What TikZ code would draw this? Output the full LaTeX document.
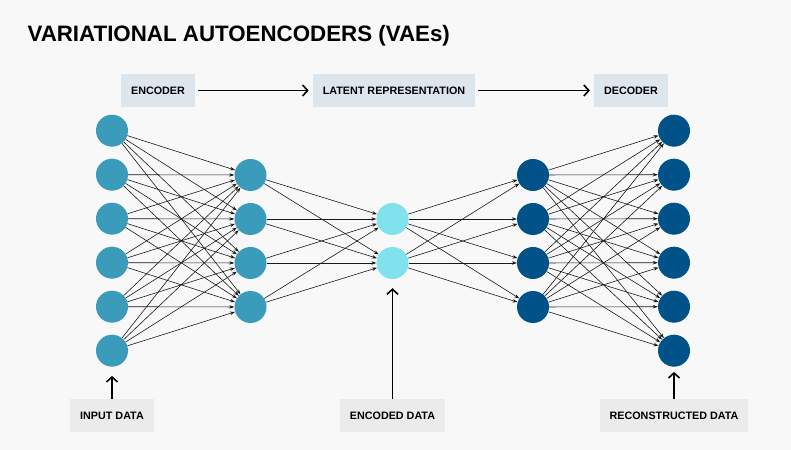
\documentclass[tikz,border=0pt]{standalone}
\usepackage{fontspec}
\setmainfont{Liberation Sans}
\usepackage{xcolor}
\usetikzlibrary{arrows.meta}
\definecolor{bgcol}{HTML}{F8F8F8}
\definecolor{topbox}{HTML}{DDE6EC}
\definecolor{botbox}{HTML}{EBEBEB}
\definecolor{enccol}{HTML}{3A9CBA}
\definecolor{latcol}{HTML}{80E2EC}
\definecolor{deccol}{HTML}{02528A}
\tikzstyle{tagbox} = [rectangle, fill=topbox, minimum height=33bp, inner xsep=10bp, font=\fontsize{10.8}{12}\selectfont\bfseries, text=black]
\tikzstyle{databox} = [tagbox, fill=botbox]
\tikzstyle{neuron} = [circle, minimum size=32bp, inner sep=0pt]
\tikzstyle{link} = [line width=0.6bp, black!90, -{Stealth[length=5bp, width=3.5bp]}]
\tikzstyle{arrow} = [line width=1.6bp, -{Straight Barb[length=5bp, width=11bp]}]
\begin{document}
\begin{tikzpicture}[x=1bp, y=-1bp]
\fill [bgcol] (0,0) rectangle (791,450);
\node (title) [anchor=base west, font=\fontsize{22.4}{26}\selectfont\bfseries] at (24,42) {VARIATIONAL AUTOENCODERS (VAEs)};

\node (enc) [tagbox] at (158,90.5) {ENCODER};
\node (lat) [tagbox] at (394,90.5) {LATENT REPRESENTATION};
\node (dec) [tagbox] at (631,90.5) {DECODER};

% layers
\foreach \i in {1,...,6} \node (a\i) [neuron, fill=enccol] at (112,86.7+44*\i) {};
\foreach \i in {1,...,4} \node (b\i) [neuron, fill=enccol] at (250.5,131+44*\i) {};
\foreach \i in {1,2} \node (c\i) [neuron, fill=latcol] at (392.5,175+44*\i) {};
\foreach \i in {1,...,4} \node (d\i) [neuron, fill=deccol] at (533,131+44*\i) {};
\foreach \i in {1,...,6} \node (e\i) [neuron, fill=deccol] at (674,86.7+44*\i) {};

% weights
\foreach \i in {1,...,6} \foreach \j in {1,...,4} \draw [link] (a\i) -- (b\j);
\foreach \i in {1,...,4} \foreach \j in {1,2} \draw [link] (b\i) -- (c\j);
\foreach \i in {1,2} \foreach \j in {1,...,4} \draw [link] (c\i) -- (d\j);
\foreach \i in {1,...,4} \foreach \j in {1,...,6} \draw [link] (d\i) -- (e\j);

\node (inp) [databox] at (112,415.5) {INPUT DATA};
\node (cod) [databox] at (392.5,415.5) {ENCODED DATA};
\node (rec) [databox] at (674,415.5) {RECONSTRUCTED DATA};

\draw [arrow, shorten <=3bp, shorten >=4bp] (enc) -- (lat);
\draw [arrow, shorten <=3bp, shorten >=4bp] (lat) -- (dec);
\draw [arrow, shorten >=9bp] (inp) -- (a6);
\draw [arrow, shorten >=9bp] (cod) -- (c2);
\draw [arrow, shorten >=5bp] (rec) -- (e6);

\end{tikzpicture}
\end{document}
